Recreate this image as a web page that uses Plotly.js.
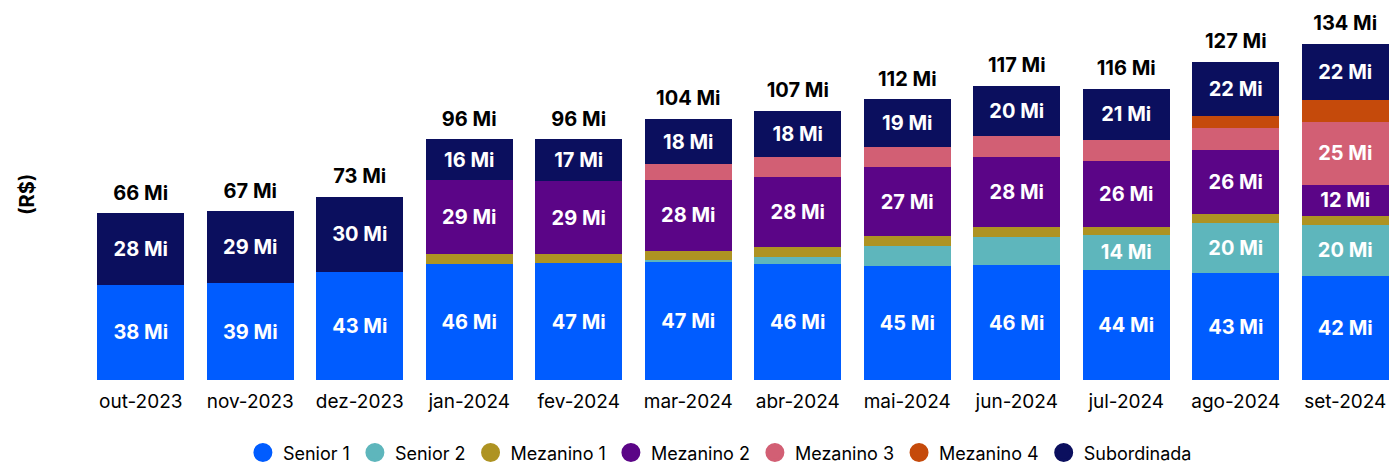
<!DOCTYPE html>
<html>
<head>
<meta charset="utf-8">
<script src="https://cdn.plot.ly/plotly-3.0.1.min.js"></script>
<style>html,body{margin:0;padding:0;background:#fff;}#chart{width:1393px;height:465px;}</style>
</head>
<body>
<div id="chart"></div>
<script>
const months = ['out-2023','nov-2023','dez-2023','jan-2024','fev-2024','mar-2024','abr-2024','mai-2024','jun-2024','jul-2024','ago-2024','set-2024'];
const senior1     = [38, 38.6, 43, 46.2, 46.6, 47, 46.2, 45.4, 45.8, 44, 42.6, 41.6];
const senior2     = [0, 0, 0, 0, 0, 0.8, 2.8, 8, 11.2, 13.6, 19.8, 20.2];
const mezanino1   = [0, 0, 0, 4, 3.6, 3.6, 4, 4, 4, 3.5, 3.6, 3.6];
const mezanino2   = [0, 0, 0, 29.4, 29, 28.4, 27.9, 27.4, 27.9, 26.2, 25.8, 12.4];
const mezanino3   = [0, 0, 0, 0, 0, 6.2, 8, 8, 8.4, 8.2, 8.6, 25];
const mezanino4   = [0, 0, 0, 0, 0, 0, 0, 0, 0, 0, 4.6, 8.8];
const subordinada = [28.4, 28.6, 30, 16.4, 16.8, 18, 18.3, 19, 20, 20.6, 21.8, 22.3];

const seriesNames  = ['Senior 1','Senior 2','Mezanino 1','Mezanino 2','Mezanino 3','Mezanino 4','Subordinada'];
const seriesValues = [senior1, senior2, mezanino1, mezanino2, mezanino3, mezanino4, subordinada];
const seriesColors = ['#005CFF','#5EB6BC','#AE9322','#5B0587','#D25F74','#C54A0B','#0B0F5E'];

const FONT = 'Inter, "Liberation Sans", Arial, sans-serif';
const labelThreshold = 11.5;

const traces = [];
seriesNames.forEach((name, i) => {
  const vals = seriesValues[i];
  traces.push({
    type: 'bar', name: name, x: months, y: vals,
    marker: {color: seriesColors[i], line: {width: 0}},
    text: vals.map(v => v >= labelThreshold ? Math.round(v) + ' Mi' : ''),
    textposition: 'inside', insidetextanchor: 'middle', textangle: 0,
    constraintext: 'none',
    insidetextfont: {family: FONT, size: 20, color: '#ffffff', weight: 700},
    hoverinfo: 'skip', showlegend: false
  });
});
// legend entries (circles)
seriesNames.forEach((name, i) => {
  traces.push({
    type: 'scatter', mode: 'markers', name: name, x: [months[0]], y: [null],
    marker: {color: seriesColors[i], size: 19, symbol: 'circle', line: {color: seriesColors[i], width: 3}},
    hoverinfo: 'skip', showlegend: true
  });
});
// totals
const totals = months.map((m, j) => seriesValues.reduce((s, arr) => s + arr[j], 0));
traces.push({
  type: 'scatter', mode: 'markers+text', x: months, y: totals,
  text: totals.map(t => Math.round(t) + ' Mi'),
  textposition: 'top center',
  marker: {size: 12, opacity: 0, color: '#ffffff'},
  textfont: {family: FONT, size: 20, color: '#000000', weight: 700},
  hoverinfo: 'skip', showlegend: false, cliponaxis: false
});

const layout = {
  width: 1393, height: 465,
  margin: {l: 86, r: 0, t: 10, b: 85, autoexpand: false},
  paper_bgcolor: '#ffffff', plot_bgcolor: '#ffffff',
  barmode: 'stack', bargap: 0.205,
  font: {family: FONT, size: 18, color: '#000000'},
  xaxis: {
    type: 'category', range: [-0.5, 11.436],
    showgrid: false, zeroline: false, showline: false, ticks: '',
    ticklabelstandoff: 8,
    tickfont: {family: FONT, size: 19, color: '#000000'}, fixedrange: true
  },
  yaxis: {
    range: [0, 147.4], showgrid: false, zeroline: false, showline: false,
    showticklabels: false, ticks: '', fixedrange: true
  },
  showlegend: true,
  legend: {
    orientation: 'h', x: 0.485, xanchor: 'center', y: -0.197, yanchor: 'middle',
    font: {family: FONT, size: 18, color: '#000000'},
    traceorder: 'normal', itemwidth: 30, bgcolor: 'rgba(0,0,0,0)'
  },
  annotations: [{
    text: '(R$)', xref: 'paper', yref: 'paper', x: (27 - 86) / 1307, y: 0.5,
    xanchor: 'center', yanchor: 'middle', textangle: -90, showarrow: false,
    font: {family: FONT, size: 20, color: '#000000', weight: 700}
  }]
};

Plotly.newPlot('chart', traces, layout, {displayModeBar: false, staticPlot: true});
</script>
</body>
</html>
